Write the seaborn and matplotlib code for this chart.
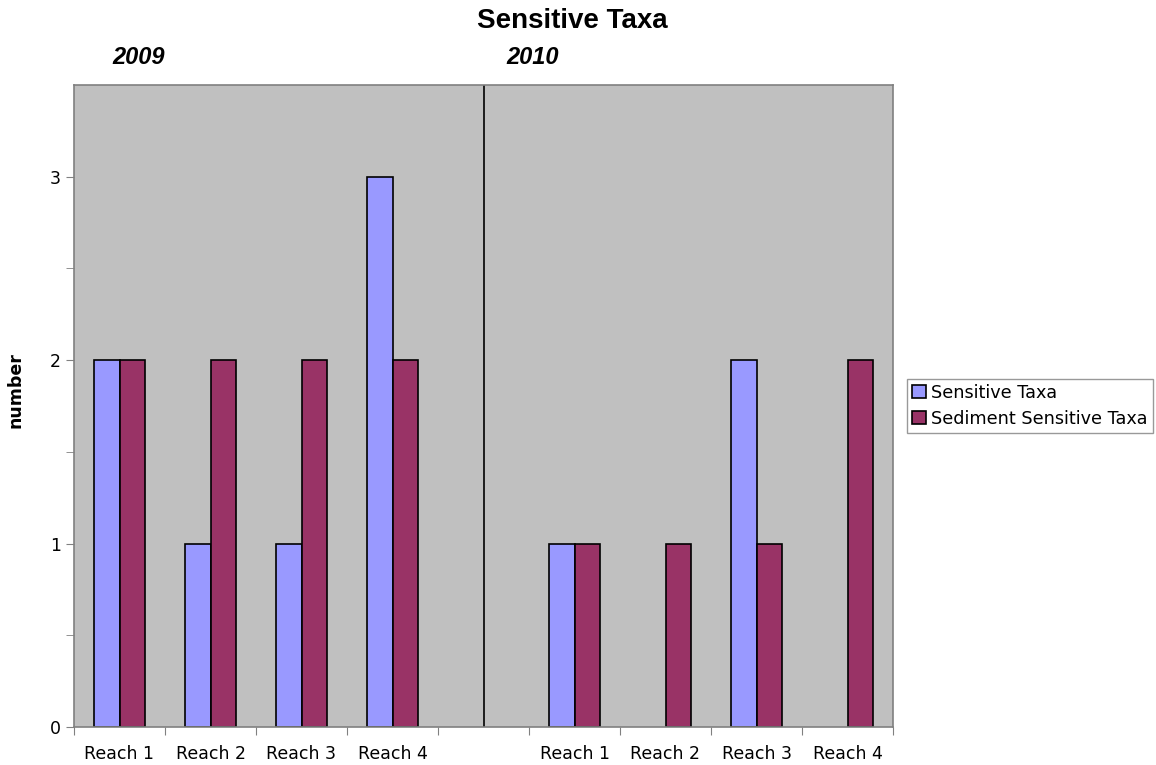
import numpy as np
import pandas as pd
import matplotlib
matplotlib.use("Agg")
import matplotlib.pyplot as plt
from matplotlib.patches import Patch
import seaborn as sns

# Данные
reaches = ["Reach 1", "Reach 2", "Reach 3", "Reach 4"]
years = ["2009", "2010"]
sensitive_2009 = [2, 1, 1, 3]
sediment_2009 = [2, 2, 2, 2]
sensitive_2010 = [1, 0, 2, 0]
sediment_2010 = [1, 1, 1, 2]
series = ["Sensitive Taxa", "Sediment Sensitive Taxa"]
colors = ["#9999FF", "#993366"]

# 4 участка 2009, пустой слот, 4 участка 2010
slots = [f"{years[0]} {r}" for r in reaches] + ["gap"] + [f"{years[1]} {r}" for r in reaches]
tick_labels = reaches + [""] + reaches

rows = []
for yr, sens, sed in [(years[0], sensitive_2009, sediment_2009),
                      (years[1], sensitive_2010, sediment_2010)]:
    for r, a, b in zip(reaches, sens, sed):
        rows.append({"slot": f"{yr} {r}", "series": series[0], "value": a})
        rows.append({"slot": f"{yr} {r}", "series": series[1], "value": b})
df = pd.DataFrame(rows)

sns.set_style("white")
plt.rcParams['font.family'] = ['DejaVu Sans']
plt.rcParams['text.color'] = 'black'
plt.rcParams['axes.labelcolor'] = 'black'

W, H = 1156, 765
fig = plt.figure(figsize=(W / 100, H / 100), dpi=100)
ax = fig.add_axes([74 / W, 1 - 727 / H, (893 - 74) / W, (727 - 85) / H])
ax.set_facecolor("#C0C0C0")

sns.barplot(data=df, x="slot", y="value", hue="series", order=slots, hue_order=series,
            palette=colors, width=0.57, edgecolor="black", linewidth=1.2,
            saturation=1, errorbar=None, legend=False, ax=ax)

# нулевые столбики не рисуем (как в исходнике)
for bar in ax.patches:
    if bar.get_height() == 0:
        bar.set_visible(False)

# разделитель между годами
gap_pos = slots.index("gap")
ax.axvline(gap_pos, color="black", linewidth=1.2)

ax.set_xlim(-0.5, len(slots) - 0.5)
ax.set_ylim(0, 3.5)

# деления на границах категорий, подписи по центру
ax.set_xticks(np.arange(len(slots) + 1) - 0.5)
ax.set_xticklabels([])
ax.set_xticks(np.arange(len(slots)), minor=True)
ax.set_xticklabels(tick_labels, minor=True, fontsize=12.5)
ax.tick_params(axis="x", which="major", direction="out", length=6, color="#808080", bottom=True)
ax.tick_params(axis="x", which="minor", length=0, pad=13, labelcolor="black")

ax.set_yticks([0, 1, 2, 3])
ax.set_yticklabels(["0", "1", "2", "3"], fontsize=12.5)
ax.set_yticks(np.arange(0.5, 3.5, 1.0), minor=True)
ax.tick_params(axis="y", which="both", direction="out", length=6, color="#808080",
               left=True, labelcolor="black")

for side in ["left", "right", "top", "bottom"]:
    ax.spines[side].set_color("#808080")
    ax.spines[side].set_linewidth(1.2)

ax.set_xlabel("")
ax.set_ylabel("")
fig.text(16 / W, 1 - 390 / H, "number", rotation=90, ha="center", va="center",
         fontsize=12.5, fontweight="bold")

handles = [Patch(facecolor=c, edgecolor="black", linewidth=1.2, label=s)
           for c, s in zip(colors, series)]
leg = ax.legend(handles=handles, loc="center left", bbox_to_anchor=(907 / W, 1 - 406 / H),
                bbox_transform=fig.transFigure, fontsize=12.7, frameon=True,
                fancybox=False, edgecolor="#808080", handlelength=0.75,
                handleheight=0.75, handletextpad=0.3, borderpad=0.3,
                labelspacing=0.45, borderaxespad=0)
leg.get_frame().set_linewidth(1.0)

fig.text(572 / W, 1 - 21 / H, "Sensitive Taxa", ha="center", va="center",
         fontsize=20, fontweight="bold", family="Liberation Sans")
fig.text(139 / W, 1 - 58 / H, years[0], ha="center", va="center",
         fontsize=17, fontweight="bold", style="italic", family="Liberation Sans")
fig.text(533 / W, 1 - 58 / H, years[1], ha="center", va="center",
         fontsize=17, fontweight="bold", style="italic", family="Liberation Sans")

fig.savefig("out.png", dpi=100)
